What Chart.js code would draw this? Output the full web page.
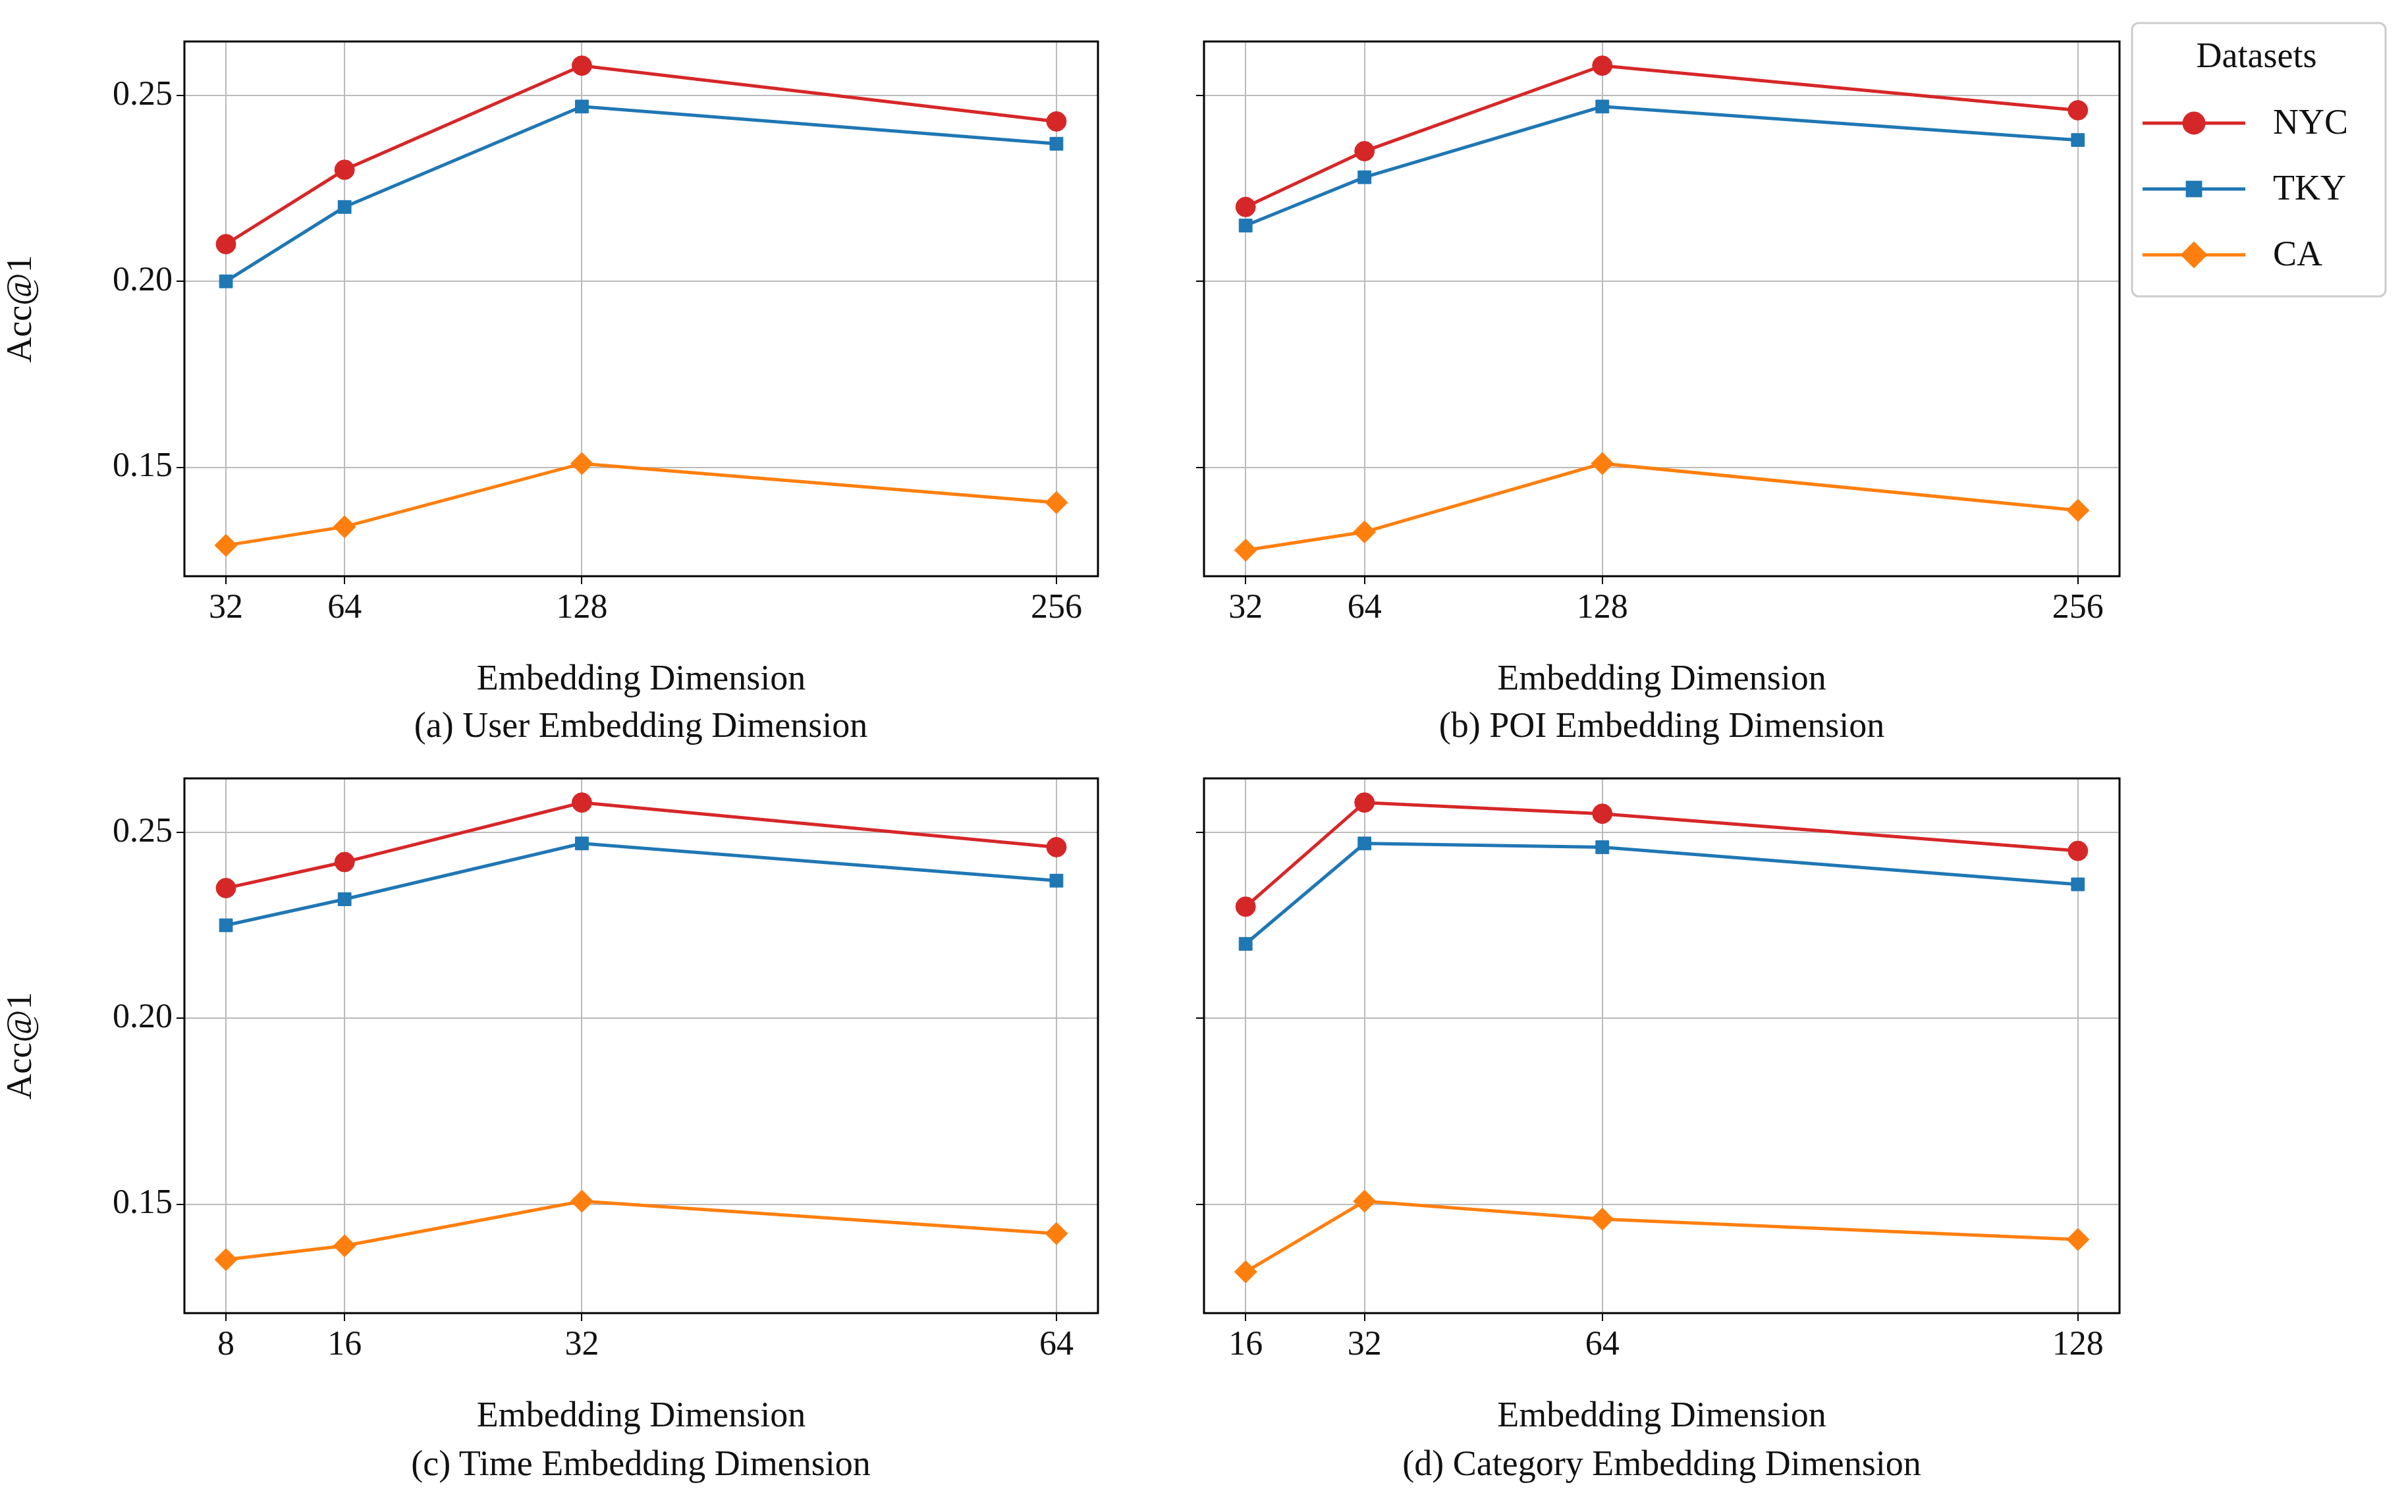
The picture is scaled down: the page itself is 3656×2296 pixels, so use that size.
<!DOCTYPE html>
<html>
<head>
<meta charset="utf-8">
<script src="https://cdn.jsdelivr.net/npm/chart.js@4"></script>
<style>
  body { margin: 0; background: #fff; width: 3656px; height: 2296px; position: relative; overflow: hidden; }
  canvas { position: absolute; }
  .sub { position: absolute; font-family: "Liberation Serif", serif; font-size: 54px; color: #111; transform: translate(-50%, -50%); white-space: nowrap; }
</style>
</head>
<body>
<canvas id="ca" width="1700" height="1148" style="left:0;top:0"></canvas>
<canvas id="cb" width="2096" height="1148" style="left:1560px;top:0"></canvas>
<canvas id="cc" width="1700" height="1148" style="left:0;top:1119px"></canvas>
<canvas id="cd" width="2096" height="1148" style="left:1560px;top:1119px"></canvas>
<div class="sub" style="left:973px;top:1101px">(a) User Embedding Dimension</div>
<div class="sub" style="left:2523px;top:1101px">(b) POI Embedding Dimension</div>
<div class="sub" style="left:973px;top:2222px">(c) Time Embedding Dimension</div>
<div class="sub" style="left:2523px;top:2222px">(d) Category Embedding Dimension</div>
<script>
// dimensions per panel
const dimsUser = [32, 64, 128, 256];
const dimsPoi = [32, 64, 128, 256];
const dimsTime = [8, 16, 32, 64];
const dimsCat = [16, 32, 64, 128];
const yTicks = [0.15, 0.20, 0.25];

// Acc@1 values
const userNYC = [0.210, 0.230, 0.258, 0.243];
const userTKY = [0.200, 0.220, 0.247, 0.237];
const userCA  = [0.129, 0.134, 0.151, 0.1405];
const poiNYC  = [0.220, 0.235, 0.258, 0.246];
const poiTKY  = [0.215, 0.228, 0.247, 0.238];
const poiCA   = [0.1277, 0.1326, 0.151, 0.1384];
const timeNYC = [0.235, 0.242, 0.258, 0.246];
const timeTKY = [0.225, 0.232, 0.247, 0.237];
const timeCA  = [0.1351, 0.1388, 0.1508, 0.1421];
const catNYC  = [0.230, 0.258, 0.255, 0.245];
const catTKY  = [0.220, 0.247, 0.246, 0.236];
const catCA   = [0.1318, 0.1508, 0.146, 0.1405];

const seriesNames = ['NYC', 'TKY', 'CA'];
const colors = ['#d62728', '#1f77b4', '#ff7f0e'];
const shapes = ['circle', 'rect', 'rectRot'];
const radii = [15, 14, 17];
const FONT = '"Liberation Serif", serif';

function pts(xs, ys) { return xs.map((x, i) => ({ x: x, y: ys[i] })); }

const boxPlugin = {
  id: 'box',
  afterDraw(chart) {
    const a = chart.chartArea, c = chart.ctx;
    c.save();
    c.strokeStyle = '#000';
    c.lineWidth = 3;
    c.strokeRect(a.left, a.top, a.right - a.left, a.bottom - a.top);
    c.restore();
  }
};

const legendPlugin = {
  id: 'dslegend',
  afterDraw(chart) {
    if (!chart.options.plugins.dslegend.show) return;
    const c = chart.ctx;
    const ox = 3237 - 1560;
    c.save();
    c.fillStyle = '#fff';
    c.strokeStyle = '#ccc';
    c.lineWidth = 3;
    c.beginPath();
    c.roundRect(ox, 35, 385, 415, 10);
    c.fill(); c.stroke();
    c.fillStyle = '#111';
    c.font = '54px ' + FONT;
    c.textAlign = 'center';
    c.textBaseline = 'middle';
    c.fillText('Datasets', ox + 189, 88);
    c.textAlign = 'left';
    seriesNames.forEach((n, i) => {
      const y = 187 + i * 100;
      c.strokeStyle = colors[i];
      c.lineWidth = 5;
      c.beginPath(); c.moveTo(ox + 16, y); c.lineTo(ox + 172, y); c.stroke();
      c.fillStyle = colors[i];
      Chart.helpers.drawPoint(c, { pointStyle: shapes[i], radius: radii[i], borderWidth: 1 }, ox + 94, y);
      c.fillStyle = '#111';
      c.fillText(n, ox + 214, y + 2);
    });
    c.restore();
  }
};

function makeChart(id, xs, nyc, tky, ca, xmin, xmax, left, legend) {
  const vals = [nyc, tky, ca];
  const padRight = left ? 33 : 438;
  const yWidth = left ? 280 : 268;
  new Chart(document.getElementById(id), {
    type: 'line',
    data: {
      datasets: vals.map((v, i) => ({
        label: seriesNames[i],
        data: pts(xs, v),
        borderColor: colors[i],
        backgroundColor: colors[i],
        borderWidth: 5,
        pointStyle: shapes[i],
        pointRadius: radii[i],
        pointBorderWidth: 1,
        tension: 0
      }))
    },
    options: {
      responsive: false,
      animation: false,
      devicePixelRatio: 1,
      layout: { padding: { top: 63, right: padRight, bottom: 83, left: 0 } },
      plugins: { legend: { display: false }, tooltip: { enabled: false }, dslegend: { show: legend } },
      scales: {
        x: {
          type: 'linear', min: xmin, max: xmax,
          afterBuildTicks: s => { s.ticks = xs.map(v => ({ value: v })); },
          afterFit: s => { s.height = 190; },
          grid: { color: '#bbb', borderDash: [8, 6], lineWidth: 2, tickLength: 12, tickColor: '#000', tickBorderDash: [] },
          border: { display: false },
          ticks: { color: '#111', font: { family: FONT, size: 52 }, padding: 6, maxRotation: 0 },
          title: { display: true, text: 'Embedding Dimension', color: '#111', font: { family: FONT, size: 54 }, padding: { top: 0, bottom: 0 } }
        },
        y: {
          min: 0.1207, max: 0.2645,
          afterBuildTicks: s => { s.ticks = yTicks.map(v => ({ value: v })); },
          afterFit: s => { s.width = yWidth; },
          grid: { color: '#bbb', borderDash: [8, 6], lineWidth: 2, tickLength: 12, tickColor: '#000', tickBorderDash: [] },
          border: { display: false },
          ticks: { display: left, color: '#111', font: { family: FONT, size: 52 }, padding: 6, callback: v => v.toFixed(2) },
          title: { display: left, text: 'Acc@1', color: '#111', font: { family: FONT, size: 54 }, padding: { top: 0, bottom: 20 } }
        }
      }
    },
    plugins: [boxPlugin, legendPlugin]
  });
}

makeChart('ca', dimsUser, userNYC, userTKY, userCA, 20.8, 267.2, true, false);
makeChart('cb', dimsPoi, poiNYC, poiTKY, poiCA, 20.8, 267.2, false, true);
makeChart('cc', dimsTime, timeNYC, timeTKY, timeCA, 5.2, 66.8, true, false);
makeChart('cd', dimsCat, catNYC, catTKY, catCA, 10.4, 133.6, false, false);
</script>
</body>
</html>
